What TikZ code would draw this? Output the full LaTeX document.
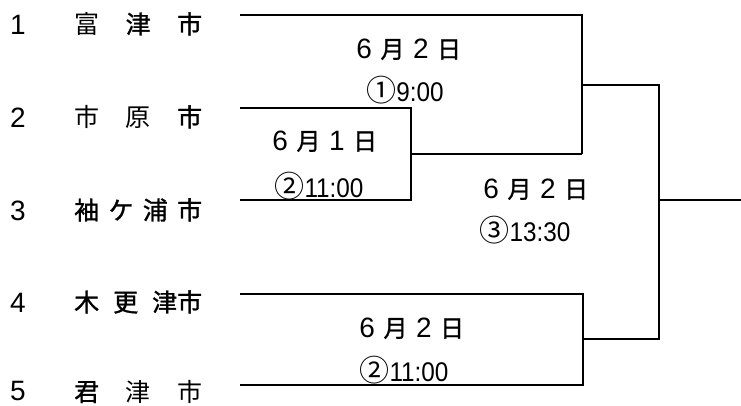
\documentclass[tikz,border=0pt]{standalone}
\usepackage{fontspec}
\setmainfont{Liberation Sans}
\newfontfamily\cjk{Noto Sans CJK JP}
\newfontfamily\cjkb[FakeBold=1.2]{Noto Sans CJK JP}
\newfontfamily\tfont[FakeStretch=0.9]{Liberation Sans}
\newcommand{\numf}{\fontsize{28}{30}\selectfont}
\newcommand{\nl}[1]{{\cjk\fontsize{25}{27}\selectfont #1}}
\newcommand{\nb}[1]{{\cjkb\fontsize{25}{27}\selectfont #1}}
\newcommand{\dg}[1]{{\fontsize{28}{30}\selectfont #1}}
\newcommand{\dc}[1]{\hbox to 17pt{\hss\cjkb\fontsize{24}{26}\selectfont #1\hss}}
\newcommand{\mydate}[2]{\dg{#1}\hskip12pt\dc{月}\hskip12pt\dg{#2}\hskip12pt\dc{日}}
\newcommand{\mytime}[2]{{\cjk\fontsize{30}{32}\selectfont #1}{\tfont\fontsize{27}{29}\selectfont #2}}
\begin{document}
\begin{tikzpicture}[x=1pt,y=-1pt,
  brk/.style={line width=2.6pt,line join=miter},
  numlbl/.style={anchor=base,inner sep=0pt,font=\numf},
  namelbl/.style={anchor=base west,inner sep=0pt},
  lbl/.style={anchor=base,inner sep=0pt}]
\useasboundingbox (0,0) rectangle (741,405);
% team rows
\node[numlbl] (n1) at (18,34) {1};
\node[numlbl] (n2) at (18,127) {2};
\node[numlbl] (n3) at (18,220) {3};
\node[numlbl] (n4) at (18,312) {4};
\node[numlbl] (n5) at (18,400) {5};
\node[namelbl] (m1) at (74,33.5) {\hbox to 128pt{\nl{富}\hfil\nb{津}\hfil\nb{市}}};
\node[namelbl] (m2) at (74,126.5) {\hbox to 128pt{\nl{市}\hfil\nl{原}\hfil\nb{市}}};
\node[namelbl] (m3) at (74,219.5) {\hbox to 128pt{\nb{袖}\hfil\nb{ケ}\hfil\nb{浦}\hfil\nb{市}}};
\node[namelbl] (m4) at (74,311.5) {\hbox to 128pt{\nb{木}\hfil\nb{更}\hfil\nb{津市}}};
\node[namelbl] (m5) at (74,401) {\hbox to 128pt{\nb{君}\hfil\nl{津}\hfil\nl{市}}};
% line coordinates
\coordinate (t1) at (240,15);
\coordinate (t2) at (240,108);
\coordinate (t3) at (240,200);
\coordinate (t4) at (240,294);
\coordinate (t5) at (240,385);
\coordinate (a2) at (411,108);
\coordinate (a3) at (411,200);
\coordinate (am) at (411,154);
\coordinate (b1) at (582,15);
\coordinate (b2) at (582,154);
\coordinate (bm) at (582,85);
\coordinate (c4) at (583,294);
\coordinate (c5) at (583,385);
\coordinate (cm) at (583,339);
\coordinate (f1) at (659,85);
\coordinate (f2) at (659,339);
\coordinate (fm) at (659,200);
\coordinate (out) at (741,200);
% brackets
\draw[brk] (t2) -- (a2) -- (a3) -- (t3);
\draw[brk] (am) -- (b2);
\draw[brk] (t1) -- (b1) -- (b2);
\draw[brk] (t4) -- (c4) -- (c5) -- (t5);
\draw[brk] (bm) -- (f1) -- (f2) -- (cm);
\draw[brk] (fm) -- (out);
% match labels
\node[lbl] (d1) at (407,58) {\mydate{6}{2}};
\node[lbl] (s1) at (405,101) {\mytime{①}{9:00}};
\node[lbl] (d2) at (323,150) {\mydate{6}{1}};
\node[lbl] (s2) at (319,197) {\mytime{②}{11:00}};
\node[lbl] (d3) at (534,198) {\mydate{6}{2}};
\node[lbl] (s3) at (525,241) {\mytime{③}{13:30}};
\node[lbl] (d4) at (410,337) {\mydate{6}{2}};
\node[lbl] (s4) at (404,381) {\mytime{②}{11:00}};
\end{tikzpicture}
\end{document}
